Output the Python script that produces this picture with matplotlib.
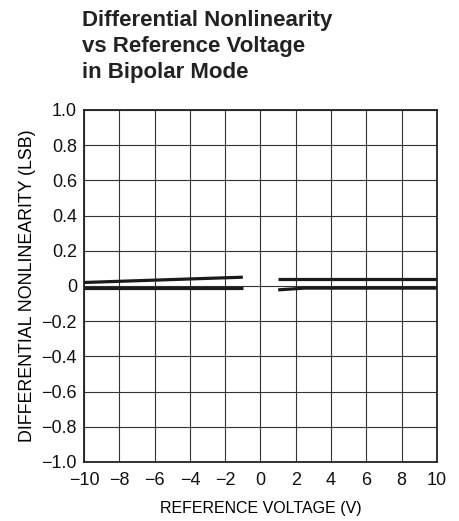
import numpy as np
import matplotlib
matplotlib.use("Agg")
import matplotlib.pyplot as plt
from matplotlib import font_manager

# data
left_x = [-10, -1]
left_upper = [0.02, 0.05]
left_lower = [-0.01, -0.01]
right_x = [1, 2.5, 10]
right_upper = [0.04, 0.04, 0.04]
right_lower = [-0.022, -0.012, -0.012]

xticks = [-10, -8, -6, -4, -2, 0, 2, 4, 6, 8, 10]
yticks = [-1.0, -0.8, -0.6, -0.4, -0.2, 0, 0.2, 0.4, 0.6, 0.8, 1.0]
ytick_labels = ['\u22121.0', '\u22120.8', '\u22120.6', '\u22120.4', '\u22120.2', '0',
                '0.2', '0.4', '0.6', '0.8', '1.0']
xtick_labels = [str(v).replace('-', '\u2212') for v in xticks]

names = {f.name for f in font_manager.fontManager.ttflist}
fam = 'Liberation Sans Narrow' if 'Liberation Sans Narrow' in names else 'Liberation Sans'
plt.rcParams['font.family'] = [fam, 'DejaVu Sans']

fig = plt.figure(figsize=(4.6, 5.21), dpi=100)
ax = fig.add_axes([84/460, 59/521, 353/460, 352/521])

ax.plot(left_x, left_upper, color='#1a1a1a', lw=2.3, solid_capstyle='butt')
ax.plot(left_x, left_lower, color='#1a1a1a', lw=2.3, solid_capstyle='butt')
ax.plot(right_x, right_upper, color='#1a1a1a', lw=2.3, solid_capstyle='butt')
ax.plot(right_x, right_lower, color='#1a1a1a', lw=2.3, solid_capstyle='butt')

ax.set_xlim(-10, 10)
ax.set_ylim(-1, 1)
ax.set_xticks(xticks)
ax.set_xticklabels(xtick_labels)
ax.set_yticks(yticks)
ax.set_yticklabels(ytick_labels)
ax.tick_params(length=0, labelsize=13, colors='#111111')
ax.tick_params(axis='x', pad=7)
ax.tick_params(axis='y', pad=5)
ax.grid(True, color='#333333', lw=0.8)
for s in ax.spines.values():
    s.set_linewidth(1.3)
    s.set_color('#222222')

ax.set_xlabel('REFERENCE VOLTAGE (V)', fontsize=11.5, labelpad=9)
ax.set_ylabel('DIFFERENTIAL NONLINEARITY (LSB)', fontsize=12.8, labelpad=4)

fig.text(82/460, 1 - 10/521, 'Differential Nonlinearity\nvs Reference Voltage\nin Bipolar Mode',
         fontsize=16, fontweight='bold', va='top', ha='left', linespacing=1.3,
         color='#222222')

fig.savefig('out.png', dpi=100)
